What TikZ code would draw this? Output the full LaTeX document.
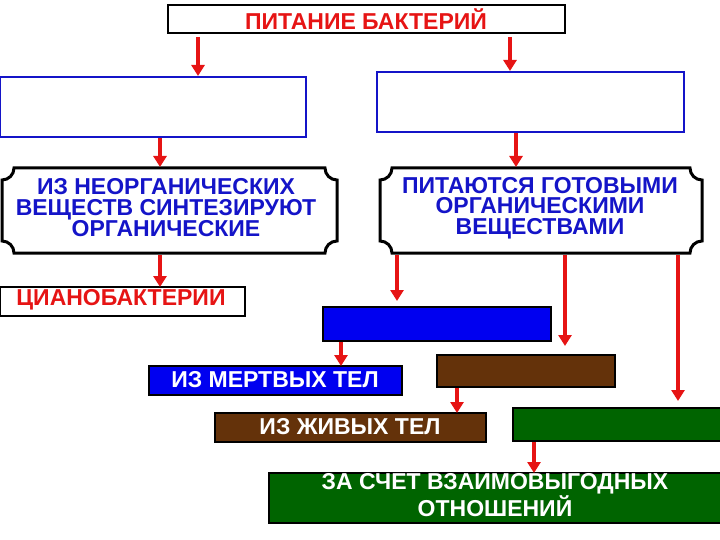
\documentclass[tikz,border=0pt]{standalone}
\usepackage{fontspec}
\setmainfont{Liberation Sans}
\usetikzlibrary{arrows.meta}
\definecolor{rd}{RGB}{230,20,20}
\definecolor{bl}{RGB}{20,20,200}
\definecolor{bf}{RGB}{0,0,240}
\definecolor{br}{RGB}{100,50,10}
\definecolor{gr}{RGB}{0,100,0}
\tikzset{
 txt/.style={font=\fontsize{23}{20.5}\selectfont\bfseries,align=center,inner sep=0},
 box/.style={draw=black,line width=1.2pt},
 arr/.style={draw=rd,line width=3.5pt,-{Triangle[length=11pt,width=13pt]}},
}
\newcommand{\plaque}[4]{%
 \draw[black,line width=3pt,fill=white] (#1+12,#2) -- (#3-12,#2) arc[start angle=180,end angle=270,radius=12pt] -- (#3,#4-12) arc[start angle=90,end angle=180,radius=12pt] -- (#1+12,#4) arc[start angle=0,end angle=90,radius=12pt] -- (#1,#2+12) arc[start angle=270,end angle=360,radius=12pt] -- cycle;}
\begin{document}
\begin{tikzpicture}[x=1pt,y=-1pt]
\useasboundingbox (0,0) rectangle (720,540);
\draw[box] (168,5) rectangle (565,33);
\node[txt,text=rd] (t) at (366,19) {ПИТАНИЕ БАКТЕРИЙ};
\draw[draw=bl,line width=1.5pt] (0,77) rectangle (306,137);
\draw[draw=bl,line width=1.5pt] (377,72) rectangle (684,132);
\plaque{2}{168}{337}{253}
\plaque{380}{168}{702}{253}
\node[txt,text=bl] (pl) at (166,208) {ИЗ НЕОРГАНИЧЕСКИХ\\ВЕЩЕСТВ СИНТЕЗИРУЮТ\\ОРГАНИЧЕСКИЕ};
\node[txt,text=bl] (pr) at (540,208) {ПИТАЮТСЯ ГОТОВЫМИ\\ОРГАНИЧЕСКИМИ\\ВЕЩЕСТВАМИ};
\draw[box,fill=white] (0,287) rectangle (245,316);
\node[txt,text=rd] (c) at (121,300) {ЦИАНОБАКТЕРИИ};
\draw[box,fill=bf] (323,307) rectangle (551,341);
\draw[box,fill=bf] (149,366) rectangle (402,395);
\node[txt,text=white] (m) at (275,380) {ИЗ МЕРТВЫХ ТЕЛ};
\draw[box,fill=br] (437,355) rectangle (615,387);
\draw[box,fill=br] (215,413) rectangle (486,442);
\node[txt,text=white] (z) at (350,427) {ИЗ ЖИВЫХ ТЕЛ};
\draw[box,fill=gr] (513,408) rectangle (722,441);
\draw[box,fill=gr] (269,473) rectangle (722,523);
\node[txt,text=white] (s) at (495,495) {ЗА СЧЕТ ВЗАИМОВЫГОДНЫХ\\ОТНОШЕНИЙ};
\coordinate (a1) at (198,37); \coordinate (b1) at (198,76);
\coordinate (a2) at (510,37); \coordinate (b2) at (510,71);
\coordinate (a3) at (160,138); \coordinate (b3) at (160,167);
\coordinate (a4) at (516,133); \coordinate (b4) at (516,167);
\coordinate (a5) at (160,255); \coordinate (b5) at (160,287);
\coordinate (a6) at (397,255); \coordinate (b6) at (397,301);
\coordinate (a7) at (565,255); \coordinate (b7) at (565,346);
\coordinate (a8) at (678,255); \coordinate (b8) at (678,401);
\coordinate (a9) at (341,342); \coordinate (b9) at (341,366);
\coordinate (a10) at (457,388); \coordinate (b10) at (457,413);
\coordinate (a11) at (534,442); \coordinate (b11) at (534,473);
\foreach \i in {1,...,11} \draw[arr] (a\i) -- (b\i);
\end{tikzpicture}
\end{document}
